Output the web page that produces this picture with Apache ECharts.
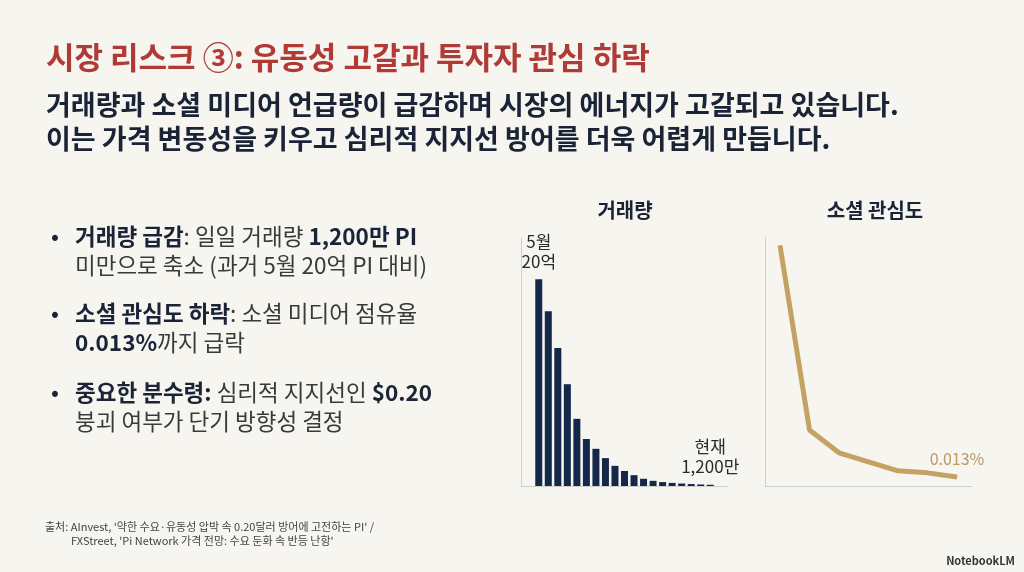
<!DOCTYPE html>
<html>
<head>
<meta charset="utf-8">
<script src="https://cdn.jsdelivr.net/npm/echarts@6/dist/echarts.min.js"></script>
<style>
html,body{margin:0;padding:0;background:#f6f5f0;}
#c{width:1024px;height:572px;}
</style>
</head>
<body>
<div id="c"></div>
<script>
// ---- data ----
const volumeCategories = ['T1','T2','T3','T4','T5','T6','T7','T8','T9','T10','T11','T12','T13','T14','T15','T16','T17','T18','T19'];
// daily volume, unit: million PI
const volumeValues = [2000, 1690, 1335, 985, 650, 455, 360, 270, 195, 145, 105, 70, 50, 38, 30, 24, 19, 15, 12];
const volumeLabels = {0: '5월\n20억', 18: '현재\n1,200만'};

const socialCategories = ['S1','S2','S3','S4','S5','S6','S7'];
// social media share, unit: %
const socialValues = [0.348, 0.081, 0.048, 0.035, 0.022, 0.019, 0.013];
const socialEndLabel = '0.013%';

const FONT = '"Noto Sans CJK KR", "Noto Sans", sans-serif';
const NAVY = '#1a2436';
const GRAY = '#3a3a3a';

const chart = echarts.init(document.getElementById('c'));

const axisLineStyle = {show: true, lineStyle: {color: '#cfcfcc', width: 1}};
const hiddenAxis = {show: false};

function bulletLine(x, y, rich) {
  return {
    type: 'text', x: x, y: y,
    style: {
      text: rich, verticalAlign: 'middle', align: 'left',
      font: '22.5px ' + FONT, fill: GRAY,
      rich: {
        b: {fontFamily: FONT, fontSize: 22.5, fontWeight: 'bold', fill: NAVY, color: NAVY},
        n: {fontFamily: FONT, fontSize: 22.5, fontWeight: 'normal', fill: GRAY, color: GRAY}
      }
    }
  };
}
function dot(y) {
  return {type: 'text', x: 51, y: y, style: {text: '•', verticalAlign: 'middle', font: 'bold 21px ' + FONT, fill: NAVY}};
}

const option = {
  backgroundColor: '#f6f5f0',
  animation: false,
  title: [
    {text: '거래량', left: 620, top: 195, textAlign: 'center',
     textStyle: {fontFamily: FONT, fontSize: 20, fontWeight: 'bold', color: NAVY}},
    {text: '소셜 관심도', left: 870, top: 195, textAlign: 'center',
     textStyle: {fontFamily: FONT, fontSize: 20, fontWeight: 'bold', color: NAVY}}
  ],
  grid: [
    {left: 534, width: 181, top: 238, height: 248},
    {left: 521, width: 207, top: 238, height: 248},
    {left: 780, width: 177, top: 237, height: 249},
    {left: 765, width: 207, top: 237, height: 249}
  ],
  xAxis: [
    {type: 'category', gridIndex: 0, data: volumeCategories, boundaryGap: true,
     axisLine: hiddenAxis, axisTick: hiddenAxis, axisLabel: hiddenAxis},
    {type: 'value', gridIndex: 1, min: 0, max: 1, axisLine: axisLineStyle,
     axisTick: hiddenAxis, axisLabel: hiddenAxis, splitLine: hiddenAxis},
    {type: 'category', gridIndex: 2, data: socialCategories, boundaryGap: false,
     axisLine: hiddenAxis, axisTick: hiddenAxis, axisLabel: hiddenAxis},
    {type: 'value', gridIndex: 3, min: 0, max: 1, axisLine: axisLineStyle,
     axisTick: hiddenAxis, axisLabel: hiddenAxis, splitLine: hiddenAxis}
  ],
  yAxis: [
    {type: 'value', gridIndex: 0, min: 0, max: 2400,
     axisLine: hiddenAxis, axisTick: hiddenAxis, axisLabel: hiddenAxis, splitLine: hiddenAxis},
    {type: 'value', gridIndex: 1, min: 0, max: 1, axisLine: axisLineStyle,
     axisTick: hiddenAxis, axisLabel: hiddenAxis, splitLine: hiddenAxis},
    {type: 'value', gridIndex: 2, min: 0, max: 0.36,
     axisLine: hiddenAxis, axisTick: hiddenAxis, axisLabel: hiddenAxis, splitLine: hiddenAxis},
    {type: 'value', gridIndex: 3, min: 0, max: 1, axisLine: axisLineStyle,
     axisTick: hiddenAxis, axisLabel: hiddenAxis, splitLine: hiddenAxis}
  ],
  series: [
    {
      type: 'bar', xAxisIndex: 0, yAxisIndex: 0,
      data: volumeValues, barWidth: 7,
      itemStyle: {color: '#13284a'},
      label: {
        show: true, position: 'top', distance: 8,
        fontFamily: FONT, fontSize: 17, lineHeight: 20, color: '#2b2b2b',
        formatter: p => volumeLabels[p.dataIndex] || ''
      }
    },
    {
      type: 'line', xAxisIndex: 2, yAxisIndex: 2,
      data: socialValues.map((v, i) => i === socialValues.length - 1
        ? {value: v, label: {show: true, formatter: socialEndLabel}}
        : v),
      symbol: 'circle', symbolSize: 1,
      itemStyle: {color: '#c4a263'},
      lineStyle: {color: '#c4a263', width: 5},
      label: {show: false, position: 'top', distance: 10,
        fontFamily: FONT, fontSize: 16, color: '#b89a62'}
    }
  ],
  graphic: [
    {type: 'text', x: 46, y: 57, style: {text: '시장 리스크 ③: 유동성 고갈과 투자자 관심 하락',
      verticalAlign: 'middle', font: 'bold 31px ' + FONT, fill: '#b03a36'}},
    {type: 'text', x: 46, y: 105, style: {text: '거래량과 소셜 미디어 언급량이 급감하며 시장의 에너지가 고갈되고 있습니다.',
      verticalAlign: 'middle', font: 'bold 27px ' + FONT, fill: NAVY}},
    {type: 'text', x: 46, y: 139, style: {text: '이는 가격 변동성을 키우고 심리적 지지선 방어를 더욱 어렵게 만듭니다.',
      verticalAlign: 'middle', font: 'bold 27px ' + FONT, fill: NAVY}},

    dot(236),
    bulletLine(75, 236, '{b|거래량 급감}{n|: 일일 거래량 }{b|1,200만 PI}'),
    bulletLine(75, 265, '{n|미만으로 축소 (과거 5월 20억 PI 대비)}'),
    dot(313),
    bulletLine(75, 313, '{b|소셜 관심도 하락}{n|: 소셜 미디어 점유율}'),
    bulletLine(75, 342, '{b|0.013%}{n|까지 급락}'),
    dot(392),
    bulletLine(75, 392, '{b|중요한 분수령:}{n| 심리적 지지선인 }{b|$0.20}'),
    bulletLine(75, 421, '{n|붕괴 여부가 단기 방향성 결정}'),

    {type: 'text', x: 45, y: 527, style: {text: "출처: AInvest, '약한 수요·유동성 압박 속 0.20달러 방어에 고전하는 PI' /",
      verticalAlign: 'middle', font: '11px ' + FONT, fill: '#444'}},
    {type: 'text', x: 71, y: 541, style: {text: "FXStreet, 'Pi Network 가격 전망: 수요 둔화 속 반등 난항'",
      verticalAlign: 'middle', font: '11px ' + FONT, fill: '#444'}},
    {type: 'text', x: 1015, y: 561, style: {text: 'NotebookLM', align: 'right',
      verticalAlign: 'middle', font: 'bold 11px ' + FONT, fill: '#333'}}
  ]
};
chart.setOption(option);
</script>
</body>
</html>
